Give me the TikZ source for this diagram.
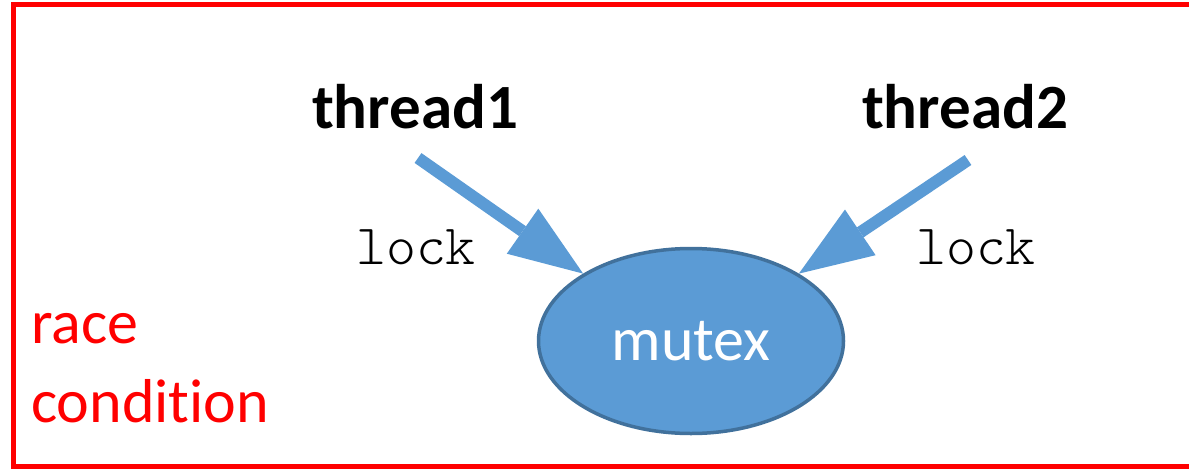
\documentclass[tikz,border=0pt]{standalone}
\usepackage{fontspec}
\setmainfont{Carlito}[Ligatures=NoCommon]
\newfontfamily\codefont{Latin Modern Mono Light}
\usetikzlibrary{arrows.meta,shapes.geometric}
\definecolor{accentblue}{RGB}{91,155,213}
\definecolor{edgeblue}{RGB}{65,113,156}
\begin{document}
\begin{tikzpicture}[x=1pt,y=-1pt,
  threadlabel/.style={font=\fontsize{63}{74}\selectfont\bfseries, anchor=base, inner sep=0pt},
  locklabel/.style={font=\codefont\fontsize{57}{64}\selectfont, anchor=base, inner sep=0pt},
  notelabel/.style={font=\fontsize{62}{74}\selectfont, text=red, anchor=base west, inner sep=0pt},
  lockarrow/.style={draw=accentblue, line width=12pt,
    -{Triangle[length=74pt,width=55pt,line width=0pt]}},
  frame/.style={draw=red, line width=5pt}]
  \useasboundingbox (0,0) rectangle (1189,469);
  \clip (0,0) rectangle (1189,469);

  % outer frame, running past the right edge
  \draw[frame] (13.5,4.8) rectangle (1210,466.5);

  % shared resource
  \node[ellipse, fill=accentblue, draw=edgeblue, line width=3.5pt,
        minimum width=305pt, minimum height=185pt, inner sep=0pt,
        text=white, font=\fontsize{62}{74}\selectfont] (mutex) at (691,341) {mutex};

  % the two threads
  \node[threadlabel] (thread1) at (415,128) {thread1};
  \node[threadlabel] (thread2) at (965,128) {thread2};

  \coordinate (tail1) at (418,158);
  \coordinate (tail2) at (968,160);

  \draw[lockarrow] (tail1) -- (mutex.148.5);
  \draw[lockarrow] (tail2) -- (mutex.32);

  \node[locklabel] (lock1) at (416,264) {lock};
  \node[locklabel] (lock2) at (976,264) {lock};

  % caption of the situation
  \node[notelabel] (race) at (31,343) {race};
  \node[notelabel] (condition) at (31,422) {condition};
\end{tikzpicture}
\end{document}
